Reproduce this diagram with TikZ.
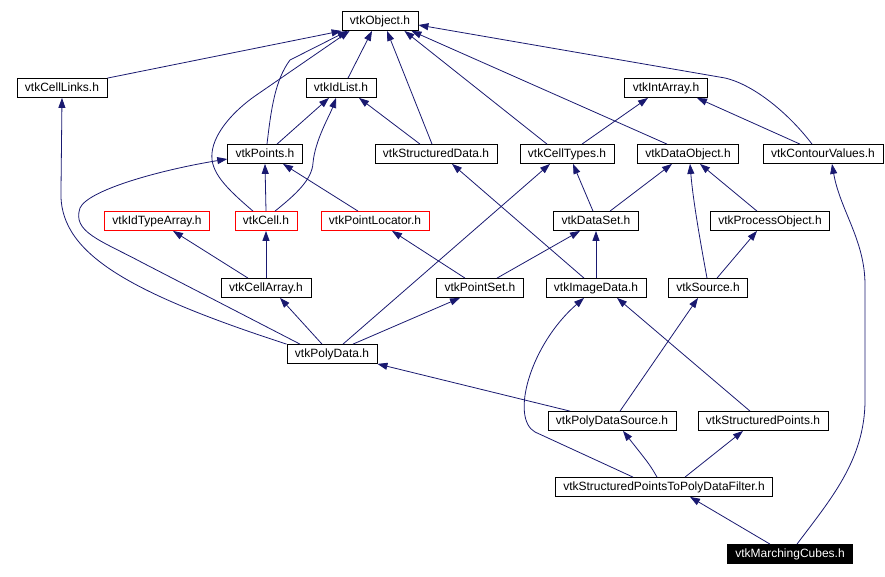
\documentclass[tikz,border=0pt]{standalone}
\usepackage{fontspec}
\setmainfont{Liberation Sans}
\usepackage{tikz}
\usetikzlibrary{arrows.meta}
\definecolor{edgeblue}{HTML}{191970}
\definecolor{badred}{HTML}{FF0000}

\begin{document}
\begin{tikzpicture}[
  x=1pt, y=-1pt,
  font=\fontsize{12}{14}\selectfont,
  hdr/.style={rectangle, draw=black, fill=white, line width=0.8pt,
              inner xsep=8pt, inner ysep=0pt, minimum height=19pt,
              text height=9pt, text depth=2.5pt},
  bad/.style={hdr, draw=badred},
  cur/.style={hdr, fill=black, text=white},
  dep/.style={-{Triangle[length=10pt, width=7pt]}, draw=edgeblue, line width=0.8pt}]
\useasboundingbox (0,0) rectangle (885,576);
% headers
\node[hdr] (obj)  at (380,21)  {vtkObject.h};
\node[hdr] (cl)   at (62,88)   {vtkCellLinks.h};
\node[hdr] (idl)  at (341,88)  {vtkIdList.h};
\node[hdr] (ia)   at (666,88)  {vtkIntArray.h};
\node[hdr] (pts)  at (265,154) {vtkPoints.h};
\node[hdr] (sd)   at (436,154) {vtkStructuredData.h};
\node[hdr] (ct)   at (567,154) {vtkCellTypes.h};
\node[hdr] (dob)  at (688,154) {vtkDataObject.h};
\node[hdr] (cv)   at (823,154) {vtkContourValues.h};
\node[bad] (ita)  at (157,221) {vtkIdTypeArray.h};
\node[bad] (cell) at (266,221) {vtkCell.h};
\node[bad] (ploc) at (375,221) {vtkPointLocator.h};
\node[hdr] (ds)   at (596,221) {vtkDataSet.h};
\node[hdr] (po)   at (770,221) {vtkProcessObject.h};
\node[hdr] (ca)   at (266,288) {vtkCellArray.h};
\node[hdr] (ps)   at (480,288) {vtkPointSet.h};
\node[hdr] (img)  at (596,288) {vtkImageData.h};
\node[hdr] (src)  at (708,288) {vtkSource.h};
\node[hdr] (pd)   at (332,354) {vtkPolyData.h};
\node[hdr] (pds)  at (612,421) {vtkPolyDataSource.h};
\node[hdr] (sp)   at (763,421) {vtkStructuredPoints.h};
\node[hdr] (sptp) at (664,487) {vtkStructuredPointsToPolyDataFilter.h};
\node[cur] (mc)   at (790,554) {vtkMarchingCubes.h};
% includes of vtkObject.h
\draw[dep] (cl.north east) -- (obj.south west);
\draw[dep] ([xshift=2pt]pts.north) .. controls (271,110) and (275,80) .. (290,60) -- ([xshift=6pt]obj.south west);
\draw[dep] ([xshift=-13pt]cell.north) .. controls (226,188) and (210,172) .. (212,153)
  .. controls (214,132) and (235,110) .. (255,96) -- ([xshift=8pt]obj.south west);
\draw[dep] ([xshift=7pt]idl.north) -- ([xshift=-8pt]obj.south);
\draw[dep] ([xshift=-4pt]sd.north) -- ([xshift=7pt]obj.south);
\draw[dep] ([xshift=-20pt]ct.north) -- ([xshift=-14pt]obj.south east);
\draw[dep] ([xshift=-21pt]dob.north) -- ([xshift=-7pt]obj.south east);
\draw[dep] ([xshift=-11pt]cv.north) .. controls (790,115) and (755,85) .. (725,78) -- ([yshift=-4pt]obj.east);
% second row
\draw[dep] ([xshift=12pt]pts.north) -- ([xshift=-12pt]idl.south);
\draw[dep] ([xshift=9pt]cell.north) .. controls (295,195) and (312,180) .. (313,163)
  .. controls (315,140) and (330,115) .. ([xshift=-5pt]idl.south);
\draw[dep] ([xshift=-16pt]sd.north) -- ([xshift=18pt]idl.south);
\draw[dep] ([xshift=15pt]ct.north) -- ([xshift=-18pt]ia.south);
\draw[dep] ([xshift=-23pt]cv.north) -- ([xshift=31pt]ia.south);
\draw[dep] (pd.north west) .. controls (120,290) and (58,250) .. (61,190) -- (cl.south);
% third row
\draw[dep] (cell.north) -- (pts.south);
\draw[dep] ([xshift=-17pt]ploc.north) -- ([xshift=18pt]pts.south);
\draw[dep] ([xshift=-32pt]pd.north) -- (143,263) .. controls (100,240) and (72,232) .. (80,208)
  .. controls (88,190) and (160,170) .. ([yshift=-5pt]pts.west);
\draw[dep] ([xshift=-3pt]ds.north) -- ([xshift=6pt]ct.south);
\draw[dep] ([xshift=14pt]ds.north) -- ([xshift=-16pt]dob.south);
\draw[dep] ([xshift=-13pt]po.north) -- ([xshift=12pt]dob.south);
% fourth row
\draw[dep] ([xshift=-18pt]ca.north) -- ([xshift=16pt]ita.south);
\draw[dep] (ca.north) -- (cell.south);
\draw[dep] ([xshift=-15pt]ps.north) -- ([xshift=17pt]ploc.south);
\draw[dep] ([xshift=17pt]ps.north) -- ([xshift=-16pt]ds.south);
\draw[dep] ([xshift=-12pt]img.north) -- ([xshift=16pt]sd.south);
\draw[dep] (img.north) -- (ds.south);
\draw[dep] ([xshift=-1pt]src.north) .. controls (700,240) and (693,200) .. ([xshift=2pt]dob.south);
\draw[dep] ([xshift=9pt]src.north) -- ([xshift=-13pt]po.south);
% vtkPolyData.h
\draw[dep] ([xshift=-10pt]pd.north) -- ([xshift=14pt]ca.south);
\draw[dep] ([xshift=11pt]pd.north) -- ([xshift=-17pt]ct.south);
\draw[dep] ([xshift=21pt]pd.north) -- ([xshift=-20pt]ps.south);
% sources and filter
\draw[dep] ([xshift=-42pt]pds.north) -- (pd.south east);
\draw[dep] ([xshift=8pt]pds.north) -- ([xshift=-10pt]src.south);
\draw[dep] ([xshift=-13pt]sp.north) -- ([xshift=21pt]img.south);
\draw[dep] ([xshift=-31pt]sptp.north) -- (535,432) .. controls (510,418) and (530,345) .. ([xshift=-12pt]img.south);
\draw[dep] ([xshift=-7pt]sptp.north) .. controls (650,465) .. ([xshift=11pt]pds.south);
\draw[dep] ([xshift=21pt]sptp.north) -- ([xshift=-20pt]sp.south);
\draw[dep] ([xshift=-20pt]mc.north) -- ([xshift=26pt]sptp.south);
\draw[dep] ([xshift=7pt]mc.north) .. controls (830,500) and (865,460) .. (865,400) -- (865,285)
  .. controls (865,240) and (840,210) .. ([xshift=9pt]cv.south);
\end{tikzpicture}
\end{document}
